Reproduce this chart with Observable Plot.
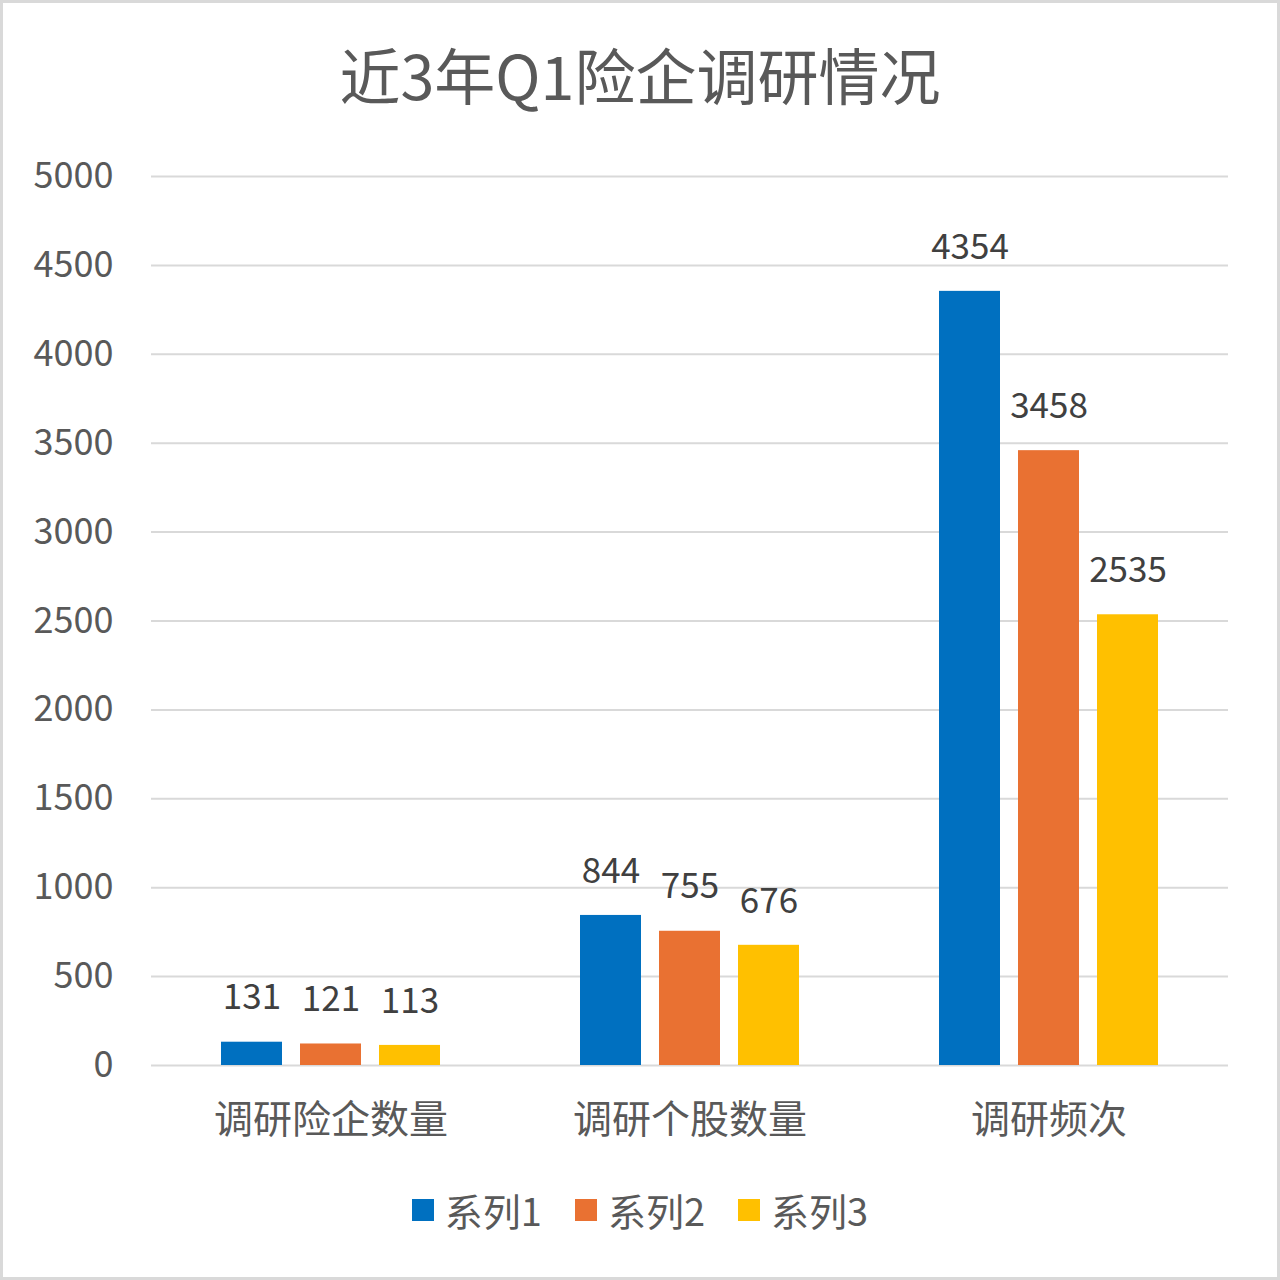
<!DOCTYPE html>
<html>
<head>
<meta charset="utf-8">
<script src="https://cdn.jsdelivr.net/npm/d3@7"></script>
<script src="https://cdn.jsdelivr.net/npm/@observablehq/plot@0.6"></script>
<style>
  html, body { margin: 0; padding: 0; background: #fff; }
  #wrap { width: 1280px; height: 1280px; box-sizing: border-box; border: 3px solid #d9d9d9; background: #fff;
          font-family: "Noto Sans CJK SC", "Noto Sans", sans-serif; color: #595959; overflow: hidden; }
  #title { height: 131px; padding-top: 6px; line-height: 129px; text-align: center; font-size: 61px; color: #595959; }
  #legend { height: 119px; padding-bottom: 8px; display: flex; justify-content: center; align-items: center; gap: 33px; font-size: 38px; color: #595959; }
  .item { display: flex; align-items: center; gap: 11px; }
  .sw { width: 22px; height: 22px; display: inline-block; }
  svg { display: block; }
</style>
</head>
<body>
<div id="wrap">
  <div id="title"></div>
  <div id="chart"></div>
  <div id="legend"></div>
</div>
<script>
const titleText = "近3年Q1险企调研情况";
const categories = ["调研险企数量", "调研个股数量", "调研频次"];
const seriesNames = ["系列1", "系列2", "系列3"];
const series1 = [131, 844, 4354];
const series2 = [121, 755, 3458];
const series3 = [113, 676, 2535];
const colors = ["#0070C0", "#E97132", "#FFC000"];
const yTicks = [0, 500, 1000, 1500, 2000, 2500, 3000, 3500, 4000, 4500, 5000];

const allSeries = [series1, series2, series3];
const data = [];
categories.forEach((c, i) => {
  seriesNames.forEach((s, j) => data.push({cat: c, series: s, value: allSeries[j][i]}));
});

document.getElementById("title").textContent = titleText;

const chart = Plot.plot({
  width: 1274,
  height: 1010,
  marginTop: 36,
  marginLeft: 147,
  marginRight: 49,
  marginBottom: 85,
  style: {fontFamily: '"Noto Sans CJK SC", "Noto Sans", sans-serif', background: "#fff", color: "#595959"},
  fx: {domain: categories, padding: 0, label: null},
  x: {domain: seriesNames, paddingInner: 0.225, paddingOuter: 0.858, axis: null},
  y: {domain: [0, 5000], axis: null},
  color: {domain: seriesNames, range: colors},
  marks: [
    Plot.gridY(yTicks, {stroke: "#d9d9d9", strokeOpacity: 1, strokeWidth: 2}),
    Plot.axisY(yTicks, {tickSize: 0, tickPadding: 38, fontSize: 36, fill: "#595959", label: null, tickFormat: d => String(d)}),
    Plot.axisFx({anchor: "bottom", tickSize: 0, tickPadding: 40, fontSize: 39, fill: "#595959", label: null}),
    Plot.barY(data, {fx: "cat", x: "series", y: "value", fill: "series"}),
    Plot.text(data, {fx: "cat", x: "series", y: "value", text: d => String(d.value), dy: -44, fontSize: 35, fill: "#404040"})
  ]
});
document.getElementById("chart").appendChild(chart);

const legend = document.getElementById("legend");
seriesNames.forEach((s, j) => {
  const item = document.createElement("div");
  item.className = "item";
  const sw = document.createElement("span");
  sw.className = "sw";
  sw.style.background = colors[j];
  const t = document.createElement("span");
  t.textContent = s;
  item.appendChild(sw);
  item.appendChild(t);
  legend.appendChild(item);
});
</script>
</body>
</html>
